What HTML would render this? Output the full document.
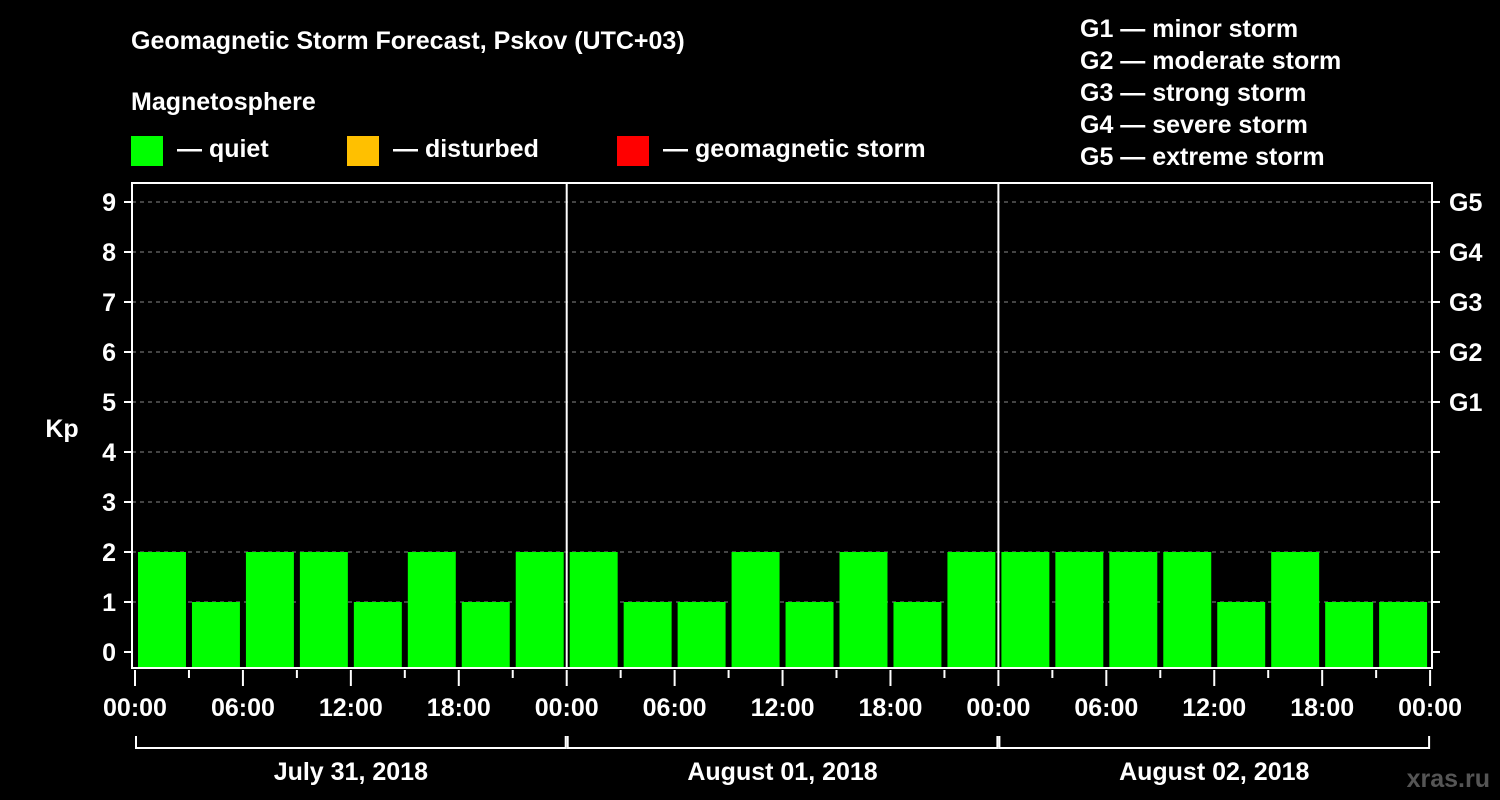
<!DOCTYPE html>
<html><head><meta charset="utf-8"><style>
body{margin:0;background:#000;}
svg{display:block;font-family:"Liberation Sans",Arial,sans-serif;font-weight:bold;}
</style></head><body>
<svg id="c" width="1500" height="800">
<rect width="1500" height="800" fill="#000"/>
<text x="131" y="49" fill="#fff" font-size="25">Geomagnetic Storm Forecast, Pskov (UTC+03)</text>
<text x="131" y="110" fill="#fff" font-size="25">Magnetosphere</text>
<g><rect x="131" y="136" width="32" height="30" fill="#00ff00"/><text x="177" y="157" fill="#fff" font-size="25">— quiet</text></g>
<g><rect x="347" y="136" width="32" height="30" fill="#ffc000"/><text x="393" y="157" fill="#fff" font-size="25">— disturbed</text></g>
<g><rect x="617" y="136" width="32" height="30" fill="#ff0000"/><text x="663" y="157" fill="#fff" font-size="25">— geomagnetic storm</text></g>
<g fill="#fff" font-size="25">
<text x="1080" y="37">G1 — minor storm</text>
<text x="1080" y="69">G2 — moderate storm</text>
<text x="1080" y="101">G3 — strong storm</text>
<text x="1080" y="133">G4 — severe storm</text>
<text x="1080" y="165">G5 — extreme storm</text>
</g>
<text x="62" y="437" fill="#fff" font-size="25" text-anchor="middle">Kp</text>
<text x="1490" y="787" fill="#555" font-size="25" text-anchor="end">xras.ru</text>
<g id="plot"></g>
</svg>
<script>
const values = [2,1,2,2,1,2,1,2, 2,1,1,2,1,2,1,2, 2,2,2,2,1,2,1,1];
const yTicks = [0,1,2,3,4,5,6,7,8,9];
const gLabels = ["G1","G2","G3","G4","G5"];
const gLevels = [5,6,7,8,9];
const timeLabels = ["00:00","06:00","12:00","18:00"];
const dayLabels = ["July 31, 2018","August 01, 2018","August 02, 2018"];
const X0=135, DAYW=431.7, L=132, R=1432, T=183, B=668;
const x = h => X0 + h/24*DAYW;
const y = v => 652 - v*50;
const NS="http://www.w3.org/2000/svg", P=document.getElementById('plot');
function mk(t,a,txt){const e=document.createElementNS(NS,t);for(const k in a)e.setAttribute(k,a[k]);if(txt!=null)e.textContent=txt;P.appendChild(e);return e;}
yTicks.forEach(v=>{
  if(v>0){const g=mk('line',{x1:L,x2:R,y1:y(v),y2:y(v),stroke:'#888','stroke-dasharray':'4,4','stroke-width':1});
  
  }
  const t=mk('line',{x1:L-8,x2:L,y1:y(v),y2:y(v),stroke:'#fff','stroke-width':2});
  
  
  const t2=mk('line',{x1:R,x2:R+8,y1:y(v),y2:y(v),stroke:'#fff','stroke-width':2});
  
  
  const l=mk('text',{x:L-16,y:y(v)+9,fill:'#fff','font-size':25,'text-anchor':'end'},String(v));
  
  
});
gLabels.forEach((g,i)=>{
  const l=mk('text',{x:1449,y:y(gLevels[i])+9,fill:'#fff','font-size':25},g);
  
  
});
values.forEach((v,i)=>{
  const b=mk('rect',{x:x(i*3)+3,y:y(v),width:DAYW/8-6,height:B-y(v),fill:'#00ff00'});
  
  
});
mk('rect',{x:L,y:T,width:R-L,height:B-T,fill:'none',stroke:'#fff','stroke-width':2});
[1,2].forEach(d=>{const s=mk('line',{x1:x(d*24),x2:x(d*24),y1:T,y2:B,stroke:'#fff','stroke-width':2});
  
  });
for(let h=0;h<=72;h+=3){
  const major=h%6===0;
  const t=mk('line',{x1:x(h),x2:x(h),y1:B+2,y2:major?B+18:B+10,stroke:'#fff','stroke-width':2});
  
  
  if(major){const l=mk('text',{x:x(h),y:B+48,fill:'#fff','font-size':25,'text-anchor':'middle'},timeLabels[(h/6)%4]);
  
  }
}
dayLabels.forEach((d,i)=>{
  const br=mk('path',{d:`M${x(i*24)+1},736V748H${x((i+1)*24)-1}V736`,fill:'none',stroke:'#fff','stroke-width':2});
  
  
  const l=mk('text',{x:x(i*24+12),y:780,fill:'#fff','font-size':25,'text-anchor':'middle'},d);
  
  
});
</script>
</body></html>
